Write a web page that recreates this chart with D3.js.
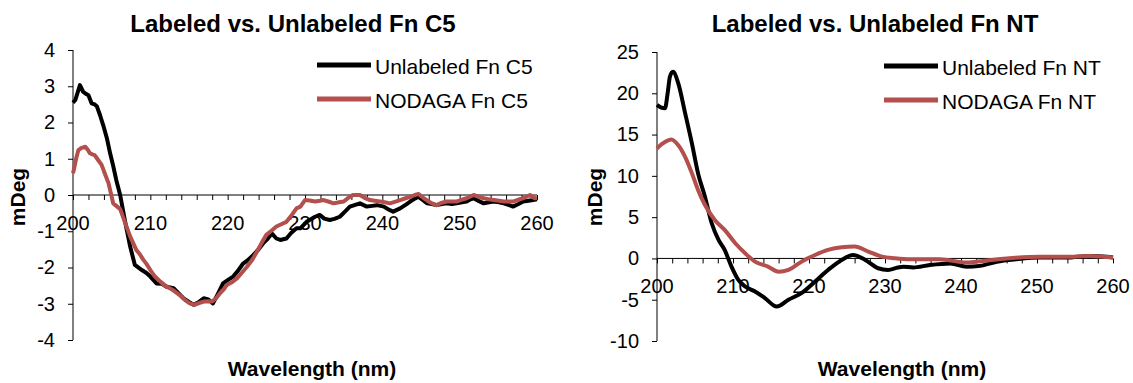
<!DOCTYPE html>
<html>
<head>
<meta charset="utf-8">
<script src="https://cdn.jsdelivr.net/npm/d3@7"></script>
<style>
  body { margin: 0; background: #fff; }
  svg { display: block; font-family: "Liberation Sans", Arial, sans-serif; }
</style>
</head>
<body>
<svg id="chart" width="1133" height="383"></svg>
<script>
// Fn C5 panel, [wavelength nm, mDeg]
const c5Unlabeled = [
  [200, 2.55], [200.3, 2.62], [200.9, 3.03], [201.3, 2.85], [201.6, 2.8], [202, 2.75],
  [202.4, 2.53], [202.8, 2.5], [203.1, 2.44], [203.5, 2.2], [203.9, 1.93], [204.4, 1.55],
  [204.8, 1.15], [205.2, 0.8], [205.6, 0.41], [206.1, 0], [206.7, -0.69], [207.4, -1.43],
  [208.0, -1.93], [208.9, -2.07], [209.5, -2.15], [210, -2.25], [210.8, -2.44], [211.5, -2.45],
  [212.1, -2.53], [213.0, -2.57], [213.6, -2.7], [214.3, -2.85], [215, -2.95], [215.6, -3.03],
  [216.3, -2.95], [216.9, -2.85], [217.5, -2.88], [218.1, -2.99], [218.8, -2.7], [219.4, -2.44],
  [220, -2.35], [220.7, -2.25], [221.3, -2.1], [222.0, -1.89], [222.6, -1.8], [223.3, -1.66],
  [224.0, -1.5], [224.6, -1.33], [225.2, -1.2], [225.7, -1.06], [226.3, -1.2], [226.8, -1.24],
  [227.6, -1.2], [228.2, -1.05], [228.9, -0.92], [229.4, -0.92], [230.2, -0.74], [230.6, -0.69],
  [231.3, -0.6], [231.9, -0.55], [232.5, -0.65], [233.2, -0.69], [233.8, -0.66], [234.5, -0.6],
  [235.2, -0.45], [235.8, -0.32], [236.5, -0.27], [237.1, -0.23], [238.0, -0.32], [238.7, -0.3],
  [239.3, -0.28], [240.2, -0.32], [240.8, -0.4], [241.4, -0.46], [242.3, -0.37], [243.0, -0.27],
  [243.6, -0.18], [244.2, -0.1], [244.7, -0.05], [245.3, -0.15], [245.8, -0.23], [246.4, -0.25],
  [247.0, -0.28], [247.7, -0.25], [248.3, -0.23], [249.0, -0.25], [249.6, -0.23], [250.3, -0.2],
  [250.9, -0.18], [251.4, -0.12], [251.8, -0.09], [252.5, -0.17], [253.1, -0.23], [253.8, -0.2],
  [254.4, -0.18], [255.1, -0.2], [255.7, -0.23], [256.3, -0.27], [256.9, -0.32], [257.6, -0.25],
  [258.2, -0.18], [258.9, -0.16], [259.5, -0.14], [260, -0.12]
];
const c5Nodaga = [
  [200, 0.6], [200.1, 0.69], [200.4, 1.0], [200.7, 1.24], [201.1, 1.3], [201.6, 1.33],
  [201.9, 1.25], [202.2, 1.15], [202.5, 1.12], [202.8, 1.1], [203.2, 0.98], [203.7, 0.83],
  [204.1, 0.6], [204.6, 0.32], [205.2, -0.23], [205.6, -0.3], [206.1, -0.39], [206.7, -0.74],
  [207.4, -1.15], [208.2, -1.52], [208.6, -1.62], [209.1, -1.79], [209.5, -1.9], [210, -2.07],
  [210.6, -2.25], [211.3, -2.39], [211.9, -2.5], [212.5, -2.57], [213.1, -2.65], [213.8, -2.76],
  [214.5, -2.9], [215.1, -2.99], [215.7, -3.03], [216.3, -2.98], [216.9, -2.94], [217.5, -2.93],
  [218.0, -2.94], [218.5, -2.85], [219.0, -2.71], [219.5, -2.6], [219.9, -2.48], [220.6, -2.4],
  [221.2, -2.3], [221.8, -2.15], [222.5, -1.98], [223.2, -1.78], [223.8, -1.56], [224.4, -1.32],
  [225.0, -1.1], [225.7, -0.98], [226.3, -0.87], [227.0, -0.8], [227.6, -0.74], [228.3, -0.55],
  [228.9, -0.37], [229.4, -0.32], [230.0, -0.14], [230.6, -0.15], [231.3, -0.18], [231.9, -0.16],
  [232.4, -0.14], [233.0, -0.18], [233.7, -0.23], [234.4, -0.2], [235.0, -0.18], [235.6, -0.08],
  [236.2, 0], [237.1, 0], [237.7, -0.08], [238.4, -0.14], [239.0, -0.16], [239.7, -0.18],
  [240.3, -0.2], [241.0, -0.23], [241.7, -0.18], [242.3, -0.14], [243.0, -0.09], [243.6, -0.05],
  [244.2, 0], [244.7, 0.03], [245.3, -0.08], [246.0, -0.18], [246.5, -0.24], [247.0, -0.28],
  [247.6, -0.22], [248.3, -0.18], [249.0, -0.18], [249.6, -0.18], [250.3, -0.13], [250.9, -0.09],
  [251.4, -0.04], [251.8, 0], [252.5, -0.05], [253.1, -0.09], [253.8, -0.12], [254.4, -0.14],
  [255.1, -0.16], [255.7, -0.18], [256.3, -0.18], [256.9, -0.18], [257.6, -0.13], [258.2, -0.09],
  [258.7, -0.04], [259.1, 0], [259.7, -0.09], [260, -0.08]
];

// Fn NT panel, [wavelength nm, mDeg]
const ntUnlabeled = [
  [200, 18.6], [200.5, 18.3], [201.05, 18.2], [201.4, 20.0], [201.7, 22.0], [202.1, 22.6],
  [202.8, 21.2], [203.7, 17.6], [204.6, 13.9], [205.4, 10.3], [206.3, 7.5], [207.2, 4.26],
  [208.1, 2.24], [208.9, 1.03], [209.8, -0.99], [210.7, -2.6], [211.6, -3.4], [212.9, -4.0],
  [214.2, -4.8], [215.75, -5.83], [217.3, -5.0], [219.0, -4.2], [220.8, -2.8], [222.5, -1.4],
  [224.3, -0.18], [225.8, 0.42], [227.4, -0.18], [229.1, -1.19], [230.4, -1.39], [231.7, -1.1],
  [232.4, -1.0], [233.7, -1.1], [235.9, -0.79], [238.6, -0.6], [240.75, -1.0], [242.5, -0.9],
  [244.7, -0.4], [247.3, -0.1], [250.4, 0.1], [253.9, 0.1], [257.0, 0.3], [259.2, 0.2], [260, 0.1]
];
const ntNodaga = [
  [200, 13.3], [200.2, 13.5], [201.05, 14.1], [201.9, 14.4], [202.8, 13.7], [203.7, 12.3],
  [204.6, 10.3], [205.4, 8.3], [206.3, 6.5], [207.6, 4.66], [208.9, 3.45], [210.3, 1.84],
  [211.6, 0.63], [212.9, -0.39], [214.6, -0.99], [216.0, -1.6], [217.3, -1.39], [219.0, -0.39],
  [220.8, 0.42], [222.5, 1.03], [224.3, 1.35], [226.0, 1.43], [227.8, 0.83], [229.6, 0.22],
  [231.3, 0.02], [233.3, -0.1], [237.2, -0.1], [240.75, -0.5], [242.9, -0.3], [246.0, 0],
  [250.4, 0.2], [254.8, 0.2], [257.0, 0.3], [260, 0.1]
];

const c5Ticks = [-4, -3, -2, -1, 0, 1, 2, 3, 4];
const ntTicks = [-10, -5, 0, 5, 10, 15, 20, 25];
const xLabelTicks = [200, 210, 220, 230, 240, 250, 260];
const c5Names = ['Unlabeled Fn C5', 'NODAGA Fn C5'];
const ntNames = ['Unlabeled Fn NT', 'NODAGA Fn NT'];
const colors = ['#000000', '#b34f4c'];

const svg = d3.select('#chart');
svg.append('rect').attr('width', 1133).attr('height', 383).attr('fill', '#fff');

function drawPanel(opts) {
  const g = svg.append('g');
  const x = d3.scaleLinear().domain([200, 260]).range([opts.left, opts.right]);
  const y = d3.scaleLinear().domain(d3.extent(opts.yTicks)).range([opts.bottom, opts.top]);
  const y0 = y(0);

  // title
  g.append('text')
    .attr('x', opts.titleX).attr('y', 32)
    .attr('text-anchor', 'middle')
    .attr('font-size', 24).attr('font-weight', 'bold')
    .text(opts.title);

  // y axis, plain hyphen for negatives like the original
  const yAxis = g.append('g')
    .attr('transform', `translate(${opts.left},0)`)
    .call(d3.axisLeft(y).tickValues(opts.yTicks).tickSize(5).tickPadding(13)
      .tickFormat(d => String(d)));
  yAxis.select('.domain').attr('d', `M0,${opts.top}V${opts.bottom}`).attr('stroke', '#000');
  yAxis.selectAll('text').attr('font-size', 20).attr('font-family', null).attr('fill', '#000');

  // x axis along y = 0, ticks every 2 nm, labels every 10 nm
  const xAxis = g.append('g')
    .attr('transform', `translate(0,${y0})`)
    .call(d3.axisBottom(x).tickValues(d3.range(200, 261, 2)).tickSize(5).tickFormat(''));
  xAxis.select('.domain').attr('d', `M${opts.left},0H${opts.right}`).attr('stroke', '#000');
  g.selectAll('.xlab')
    .data(xLabelTicks)
    .join('text')
    .attr('class', 'xlab')
    .attr('x', d => x(d)).attr('y', y0 + 35)
    .attr('text-anchor', 'middle')
    .attr('font-size', 20)
    .text(d => d);

  // axis titles
  g.append('text')
    .attr('transform', `translate(${opts.yLabelX},197) rotate(-90)`)
    .attr('text-anchor', 'middle')
    .attr('font-size', 21).attr('font-weight', 'bold')
    .text('mDeg');
  g.append('text')
    .attr('x', opts.xLabelX).attr('y', 376)
    .attr('text-anchor', 'middle')
    .attr('font-size', 21).attr('font-weight', 'bold')
    .text('Wavelength (nm)');

  // series
  const line = d3.line()
    .x(d => x(d[0]))
    .y(d => y(d[1]))
    .curve(opts.curve);
  opts.series.forEach((s, i) => {
    g.append('path')
      .datum(s)
      .attr('fill', 'none')
      .attr('stroke', colors[i])
      .attr('stroke-width', 4)
      .attr('stroke-linejoin', 'round')
      .attr('d', line);
  });

  // legend
  opts.names.forEach((name, i) => {
    const ly = opts.legendY[i];
    g.append('line')
      .attr('x1', opts.legendX).attr('x2', opts.legendX + 54)
      .attr('y1', ly).attr('y2', ly)
      .attr('stroke', colors[i]).attr('stroke-width', 5);
    g.append('text')
      .attr('x', opts.legendX + 58).attr('y', ly + 9)
      .attr('font-size', 21)
      .text(name);
  });
}

drawPanel({
  title: 'Labeled vs. Unlabeled Fn C5',
  titleX: 293,
  left: 73, right: 537, top: 50, bottom: 340,
  yTicks: c5Ticks,
  yLabelX: 25, xLabelX: 312,
  series: [c5Unlabeled, c5Nodaga],
  names: c5Names,
  legendX: 317, legendY: [65, 99],
  curve: d3.curveLinear
});

drawPanel({
  title: 'Labeled vs. Unlabeled Fn NT',
  titleX: 875,
  left: 657, right: 1113, top: 52, bottom: 341,
  yTicks: ntTicks,
  yLabelX: 602, xLabelX: 902,
  series: [ntUnlabeled, ntNodaga],
  names: ntNames,
  legendX: 884, legendY: [66, 100],
  curve: d3.curveMonotoneX
});
</script>
</body>
</html>
